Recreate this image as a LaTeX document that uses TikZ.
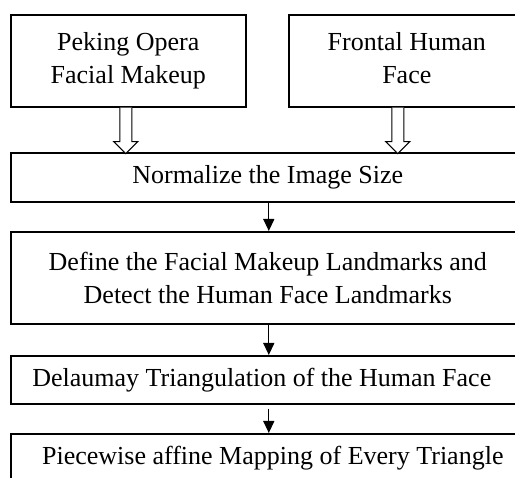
\documentclass[tikz,border=0pt]{standalone}
\usepackage{fontspec}
\setmainfont{Liberation Serif}
\usetikzlibrary{arrows.meta}
\begin{document}
\begin{tikzpicture}[x=1pt,y=-1pt,
  box/.style={draw, line width=1.6pt, anchor=north west, inner sep=0pt,
    font=\fontsize{26}{33}\selectfont, align=center},
  arr/.style={line width=1.3pt, -{Triangle[width=11pt,length=12pt]}},
  hollow/.style={draw, line width=1.1pt, fill=white}]
\useasboundingbox (0,0) rectangle (515,478);
\clip (0,0) rectangle (515,478);
\node[box, minimum width=235pt, minimum height=92pt] (pk) at (10,14) {Peking Opera\\Facial Makeup};
\node[box, minimum width=236pt, minimum height=92pt] (fh) at (288,14) {Frontal Human\\Face\vphantom{p}};
\node[box, minimum width=514pt, minimum height=49pt] (nm) at (10,152) {Normalize the Image Size};
\node[box, minimum width=514pt, minimum height=92pt] (dl) at (10,231) {Define the Facial Makeup Landmarks and\\Detect the Human Face Landmarks};
\node[box, minimum width=514pt, minimum height=48pt] (dt) at (10,355) {\hspace*{-12pt}Delaumay Triangulation of the Human Face};
\node[box, minimum width=514pt, minimum height=48pt] (pw) at (10,433) {\hspace*{10pt}Piecewise affine Mapping of Every Triangle};
\draw[hollow] ([xshift=-8.5pt]pk.south) -- ++(0,34) -- ++(-6,0) -- ++(12,12) -- ++(12,-12) -- ++(-6,0) -- ++(0,-34);
\draw[hollow] ([xshift=-15pt]fh.south) -- ++(0,34) -- ++(-6,0) -- ++(12,12) -- ++(12,-12) -- ++(-6,0) -- ++(0,-34);
\draw[arr] ([xshift=1pt]nm.south) -- ([xshift=1pt]dl.north);
\draw[arr] ([xshift=1pt]dl.south) -- ([xshift=1pt]dt.north);
\draw[arr] ([xshift=1pt,yshift=-4pt]dt.south) -- ([xshift=1pt]pw.north);
\end{tikzpicture}
\end{document}
